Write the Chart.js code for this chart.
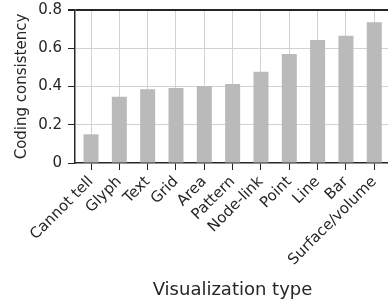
<!DOCTYPE html>
<html>
<head>
<meta charset="utf-8">
<script src="https://cdn.jsdelivr.net/npm/chart.js@4"></script>
<style>
  html, body { margin: 0; padding: 0; background: #fff; overflow: hidden; }
  #wrap { width: 388px; height: 306px; overflow: hidden; }
</style>
</head>
<body>
<div id="wrap"><canvas id="chart" width="392" height="306"></canvas></div>
<script>
// data
const categories = ['Cannot tell', 'Glyph', 'Text', 'Grid', 'Area', 'Pattern', 'Node-link', 'Point', 'Line', 'Bar', 'Surface/volume'];
const consistency = [0.150, 0.347, 0.385, 0.392, 0.403, 0.413, 0.477, 0.570, 0.643, 0.666, 0.736];
const yTicks = [0, 0.2, 0.4, 0.6, 0.8];

const dark = '#262626';
const gridGray = '#d2d2d2';
const barGray = '#bababa';
const font = 'DejaVu Sans';

const points = categories.map((c, i) => ({ x: i, y: consistency[i] }));

// only real category positions get a grid line / tick
const onCategory = c => c.tick && Number.isInteger(c.tick.value);

new Chart(document.getElementById('chart'), {
	type: 'bar',
	data: {
		datasets: [{
			data: points,
			backgroundColor: barGray,
			borderWidth: 0,
			barPercentage: 0.53,
			categoryPercentage: 1
		}]
	},
	options: {
		responsive: false,
		animation: false,
		layout: { padding: { top: 10, right: 2, left: 0, bottom: 0 } },
		plugins: {
			legend: { display: false },
			tooltip: { enabled: false }
		},
		scales: {
			x: {
				type: 'linear',
				offset: false,
				min: -0.565,
				max: 10.555,
				afterFit: s => { s.height = 143; },
				grid: {
					offset: false,
					color: c => onCategory(c) ? gridGray : 'rgba(0,0,0,0)',
					lineWidth: 1,
					tickColor: c => onCategory(c) ? dark : 'rgba(0,0,0,0)',
					tickLength: 7
				},
				border: { color: dark, width: 1.5 },
				ticks: {
					stepSize: 1,
					includeBounds: false,
					autoSkip: false,
					minRotation: 45,
					maxRotation: 45,
					padding: 3,
					color: dark,
					font: { family: font, size: 15 },
					callback: v => categories[v] ?? ''
				},
				title: {
					display: true,
					text: 'Visualization type',
					color: dark,
					font: { family: font, size: 18 },
					padding: { top: 0, bottom: 5 }
				}
			},
			y: {
				min: 0,
				max: 0.8,
				afterFit: s => { s.width = 75; s.paddingTop = 0; s.paddingBottom = 0; },
				afterBuildTicks: s => { s.ticks = yTicks.map(v => ({ value: v })); },
				grid: {
					color: c => c.index === 4 ? dark : (c.index === 0 ? 'rgba(0,0,0,0)' : gridGray),
					lineWidth: c => c.index === 4 ? 2 : 1,
					tickColor: dark,
					tickLength: 7
				},
				border: { color: dark, width: 1.5 },
				ticks: {
					padding: 6,
					color: dark,
					font: { family: font, size: 15 },
					callback: v => String(v)
				},
				title: {
					display: true,
					text: 'Coding consistency',
					color: dark,
					font: { family: font, size: 15 },
					padding: { top: 13, bottom: 0 }
				}
			}
		}
	}
});
</script>
</body>
</html>
